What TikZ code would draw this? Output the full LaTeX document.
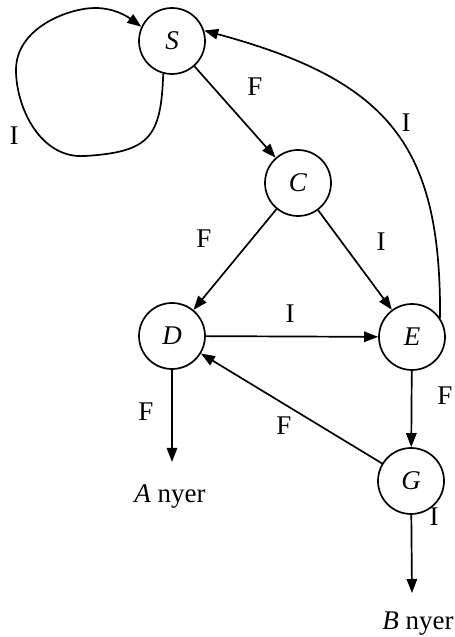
\documentclass[tikz,border=0pt]{standalone}
\usepackage{fontspec}
\setmainfont{Liberation Serif}
\usetikzlibrary{arrows.meta}

\tikzset{
  state/.style={circle, draw, minimum size=33pt, inner sep=0pt, font=\fontsize{13.5}{15}\selectfont\itshape},
  lab/.style={inner sep=0pt}
}

\begin{document}
\begin{tikzpicture}[x=0.5pt, y=0.5pt, line width=0.85pt, font=\fontsize{13.5}{15}\selectfont,
  >={Triangle[length=7pt,width=5.2pt]}]
\useasboundingbox (0,0) rectangle (455,637);
% states
\node[state] (S) at (172,596) {S};
\node[state] (C) at (298,454) {C};
\node[state] (D) at (172,301) {D};
\node[state] (E) at (412,300) {E};
\node[state] (G) at (411,156) {G};
% outcomes
\coordinate (aend) at (172,175);
\coordinate (bend) at (412,44);
\node[anchor=base] (anyer) at (170,134) {\textit{A} nyer};
\node[anchor=base] (bnyer) at (418,7) {\textit{B} nyer};
% transitions
\draw[->] (S) -- (C);
\draw[->] (C) -- (D);
\draw[->] (C) -- (E);
\draw[->] (D) -- (E);
\draw[->] (E) -- (G);
\draw[->] (G) -- (D);
\draw[->] (D) -- (aend);
\draw[->] (G) -- (bend);
\draw[->] (E.34) .. controls (441,490) and (391,556) .. (S.18);
% self loop on S
\draw[->] (S.-105) .. controls (161,500) and (150,485) .. (85,481)
  .. controls (40,478) and (16,530) .. (16,567)
  .. controls (16,610) and (70,629) .. (95,629)
  .. controls (115,629) and (128,620) .. (S.155);
% edge labels
\node[lab] (lsc) at (255,550) {F};
\node[lab] (lcd) at (204,398) {F};
\node[lab] (lce) at (381,395) {I};
\node[lab] (lde) at (290,323) {I};
\node[lab] (leg) at (445,241) {F};
\node[lab] (lda) at (146,225) {F};
\node[lab] (lgd) at (284,211) {F};
\node[lab] (lgb) at (434,120) {I};
\node[lab] (les) at (406,514) {I};
\node[lab] (lss) at (14,501) {I};
\end{tikzpicture}
\end{document}
